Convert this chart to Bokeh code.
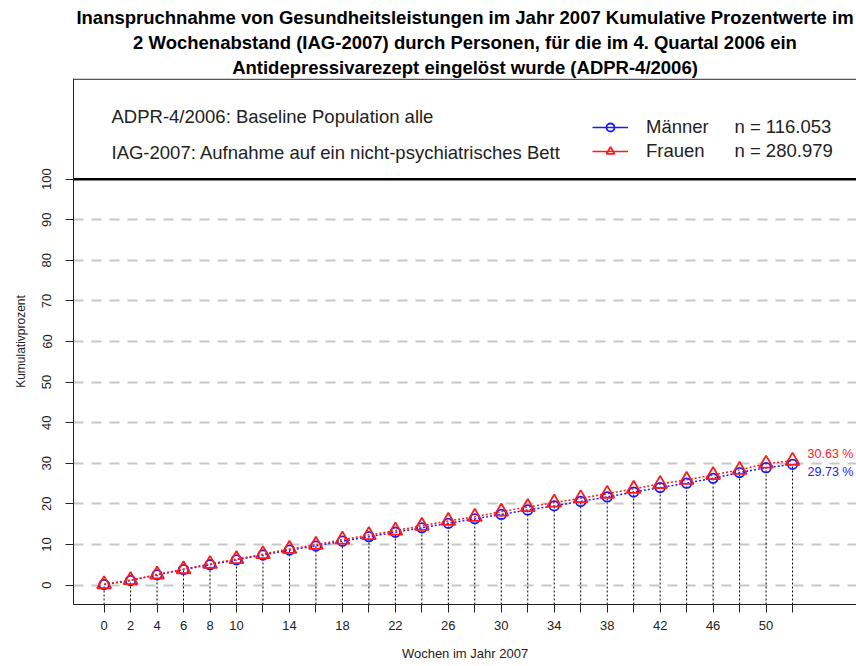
from bokeh.plotting import figure
from bokeh.models import Range1d, FixedTicker, Span, Label, Legend, LegendItem, Title
from bokeh.embed import file_html
from bokeh.resources import INLINE

# ---- data ----
weeks = list(range(0, 53, 2))
frauen = [0.2, 1.2, 2.6, 3.9, 5.2, 6.4, 7.6, 8.9, 9.9, 11.2, 12.3, 13.4, 14.6, 15.8,
          16.8, 18.1, 19.2, 20.3, 21.4, 22.5, 23.7, 24.9, 25.9, 27.1, 28.4, 29.9, 30.63]
maenner = [0.1, 1.1, 2.5, 3.8, 5.0, 6.2, 7.4, 8.6, 9.6, 10.8, 11.9, 13.0, 14.1, 15.2,
           16.3, 17.4, 18.5, 19.5, 20.6, 21.7, 22.9, 24.0, 25.1, 26.3, 27.7, 28.9, 29.73]
x_labels_shown = [0, 2, 4, 6, 8, 10, 14, 18, 22, 26, 30, 34, 38, 42, 46, 50]
y_ticks = list(range(0, 101, 10))
grid_ticks = list(range(0, 91, 10))
title_lines = [
    "Inanspruchnahme von Gesundheitsleistungen im Jahr 2007 Kumulative Prozentwerte im",
    "2 Wochenabstand (IAG-2007) durch Personen, für die im 4. Quartal 2006 ein",
    "Antidepressivarezept eingelöst wurde (ADPR-4/2006)",
]
info_lines = [
    "ADPR-4/2006: Baseline Population alle",
    "IAG-2007: Aufnahme auf ein nicht-psychiatrisches Bett",
]
series_names = ["Männer", "Frauen"]
series_n = ["n = 116.053", "n = 280.979"]
end_labels = ["29.73 %", "30.63 %"]
x_title = "Wochen im Jahr 2007"
y_title = "Kumulativprozent"

FONT = "Liberation Sans"
BLUE = "#1a1aff"
RED = "#ff1a1a"
TXT = "#222222"

X0, X1 = -2.31, 56.83
Y0, Y1 = -4.8, 124.8
FL, FT, FW, FH = 73, 78, 783, 526   # frame left/top/width/height in pixels

p = figure(width=856, height=666, output_backend="svg", toolbar_location=None,
           x_range=Range1d(X0, X1), y_range=Range1d(Y0, Y1),
           min_border_left=FL, min_border_right=0, min_border_top=FT,
           min_border_bottom=666 - FT - FH)
p.outline_line_color = None

# titles: the first one added sits closest to the frame
p.title.text = ""
p.title.standoff = 0
for line in (title_lines[2], title_lines[1], title_lines[0]):
    t = Title(text=line, align="center", text_font=FONT, text_font_size="18.5px",
              text_font_style="bold", text_color="black", standoff=2, offset=0)
    p.add_layout(t, "above")

# grid
p.xgrid.grid_line_color = None
p.ygrid.ticker = FixedTicker(ticks=grid_ticks)
p.ygrid.grid_line_color = "#c8c8c8"
p.ygrid.grid_line_width = 2
p.ygrid.grid_line_dash = "10 8"

# axes
xa = p.xaxis[0]
xa.ticker = FixedTicker(ticks=weeks)
xa.major_label_overrides = {w: (str(w) if w in x_labels_shown else "") for w in weeks}
xa.minor_tick_line_color = None
xa.major_tick_out = 8
xa.major_tick_in = 0
xa.major_label_standoff = 8
xa.major_label_text_font = FONT
xa.major_label_text_font_size = "13px"
xa.major_label_text_color = TXT
xa.axis_line_color = TXT
xa.major_tick_line_color = TXT
xa.axis_label = x_title
xa.axis_label_text_font = FONT
xa.axis_label_text_font_size = "13px"
xa.axis_label_text_font_style = "normal"
xa.axis_label_text_color = TXT
xa.axis_label_standoff = 13

ya = p.yaxis[0]
ya.ticker = FixedTicker(ticks=y_ticks)
ya.minor_tick_line_color = None
ya.major_tick_out = 8
ya.major_tick_in = 0
ya.major_label_orientation = "vertical"
ya.major_label_standoff = 14
ya.major_label_text_font = FONT
ya.major_label_text_font_size = "13px"
ya.major_label_text_color = TXT
ya.axis_line_color = TXT
ya.major_tick_line_color = TXT
ya.axis_label = y_title
ya.axis_label_text_font = FONT
ya.axis_label_text_font_size = "12px"
ya.axis_label_text_font_style = "normal"
ya.axis_label_text_color = TXT
ya.axis_label_standoff = 12

# 100 line and top border of the info box
p.add_layout(Span(location=100, dimension="width", line_color="black", line_width=2.5))
p.add_layout(Span(location=124.6, dimension="width", line_color="#555555", line_width=1.5))

# vertical dotted drop lines
p.segment(x0=weeks, y0=[Y0] * len(weeks), x1=weeks, y1=maenner,
          line_color="black", line_width=1, line_dash="2 2")

# series
lm = p.line(weeks, maenner, line_color=BLUE, line_width=1.5, line_dash="2 2")
lf = p.line(weeks, frauen, line_color=RED, line_width=1.5, line_dash="2 2")
sm = p.scatter(weeks, maenner, marker="circle", size=9.5, fill_color=None,
               line_color=BLUE, line_width=1.8)
sf = p.scatter(weeks, frauen, marker="triangle", size=14, fill_color=None,
               line_color=RED, line_width=1.8)

# hidden solid lines, used only for the legend samples
lm_leg = p.line(weeks, maenner, line_color=BLUE, line_width=1.5, visible=False)
lf_leg = p.line(weeks, frauen, line_color=RED, line_width=1.5, visible=False)

legend = Legend(items=[LegendItem(label=series_names[0], renderers=[lm_leg, sm]),
                       LegendItem(label=series_names[1], renderers=[lf_leg, sf])],
                location=(519, FH - 38 - 44 - 2), border_line_color=None,
                background_fill_alpha=0, inactive_fill_alpha=0,
                padding=0, margin=0, spacing=2,
                glyph_width=36, glyph_height=20, label_height=20, label_standoff=18,
                label_text_font=FONT, label_text_font_size="18.5px",
                label_text_color=TXT, label_text_baseline="middle")
p.add_layout(legend)

def px_to_x(px):
    return X0 + (px - FL) * (X1 - X0) / FW

def py_to_y(py):
    return Y1 - (py - FT) * (Y1 - Y0) / FH

# n labels
for i, t in enumerate(series_n):
    p.add_layout(Label(x=px_to_x(734), y=py_to_y(126 + 24 * i), text=t, text_color=TXT,
                       text_font=FONT, text_font_size="18.5px", text_baseline="middle"))

# info lines
for i, t in enumerate(info_lines):
    p.add_layout(Label(x=px_to_x(111), y=py_to_y(116 + 36 * i), text=t, text_color=TXT,
                       text_font=FONT, text_font_size="18.5px", text_baseline="middle"))

# end labels
p.add_layout(Label(x=weeks[-1], y=maenner[-1], x_offset=15, y_offset=-8, text=end_labels[0],
                   text_font=FONT, text_font_size="12.5px", text_color=BLUE,
                   text_baseline="middle"))
p.add_layout(Label(x=weeks[-1], y=frauen[-1], x_offset=15, y_offset=7, text=end_labels[1],
                   text_font=FONT, text_font_size="12.5px", text_color=RED,
                   text_baseline="middle"))

open("out.html", "w").write(file_html(p, INLINE))
